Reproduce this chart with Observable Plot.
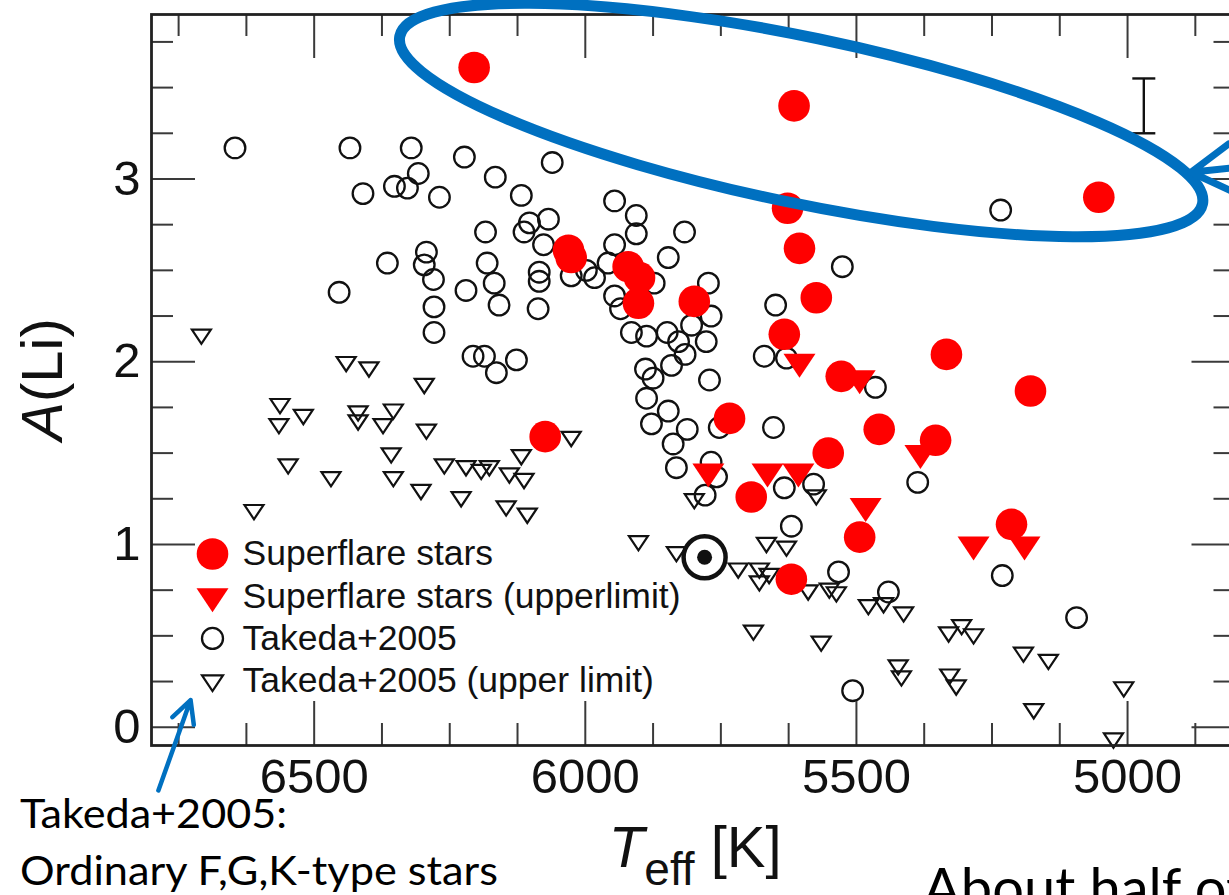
<!DOCTYPE html>
<html>
<head>
<meta charset="utf-8">
<script src="https://cdn.jsdelivr.net/npm/d3@7"></script>
<script src="https://cdn.jsdelivr.net/npm/@observablehq/plot@0.6"></script>
<style>
  html, body { margin: 0; padding: 0; background: #fff; overflow: hidden; }
  #chart { position: relative; width: 1229px; height: 895px; overflow: hidden; }
</style>
</head>
<body>
<div id="chart"></div>
<script>
// ---- Data: [Teff (K), A(Li)] ----
const superflareStars = [
  [6205, 3.61], [5615, 3.40], [5053, 2.90], [5627, 2.84], [5605, 2.62],
  [6031, 2.61], [6026, 2.57], [5921, 2.52], [5900, 2.46], [5902, 2.32],
  [5799, 2.33], [5574, 2.35], [5633, 2.15], [5334, 2.04], [5179, 1.84],
  [5528, 1.92], [5458, 1.63], [5354, 1.57], [5552, 1.50], [5734, 1.69],
  [6074, 1.59], [5694, 1.26], [5494, 1.04], [5214, 1.11], [5620, 0.81]
];

const superflareUpper = [
  [5605, 2.00], [5494, 1.91], [5382, 1.50], [5483, 1.21], [5284, 1.00],
  [5190, 1.00], [5773, 1.40], [5664, 1.40], [5607, 1.40]
];

const takedaStars = [
  [6646, 3.17], [6434, 3.17], [6321, 3.17], [6223, 3.12], [6061, 3.09],
  [6308, 3.03], [6166, 3.01], [6410, 2.92], [6352, 2.96], [6328, 2.95],
  [6269, 2.90], [6118, 2.91], [5946, 2.88], [5906, 2.80], [5906, 2.70],
  [5817, 2.71], [6103, 2.76], [6068, 2.78], [6113, 2.71], [6184, 2.71],
  [6077, 2.64], [5946, 2.64], [6365, 2.54], [6454, 2.38], [6293, 2.60],
  [6297, 2.53], [6280, 2.45], [6279, 2.30], [6279, 2.16], [6181, 2.54],
  [6168, 2.43], [6220, 2.39], [6159, 2.31], [6087, 2.29], [6085, 2.49],
  [6085, 2.44], [6026, 2.47], [5998, 2.50], [5983, 2.46], [5958, 2.54],
  [5946, 2.36], [5935, 2.29], [5873, 2.43], [5847, 2.57], [5773, 2.43],
  [5915, 2.16], [5887, 2.14], [5849, 2.16], [5828, 2.11], [5804, 2.20],
  [5768, 2.25], [5777, 2.11], [5816, 2.04], [5841, 1.98], [5889, 1.96],
  [5875, 1.91], [5771, 1.90], [5887, 1.80], [5847, 1.73], [5878, 1.66],
  [5812, 1.63], [5838, 1.55], [5832, 1.42], [5768, 1.45], [5758, 1.37],
  [5779, 1.27], [5753, 1.64], [5649, 2.31], [5670, 2.03], [5629, 2.02],
  [5653, 1.64], [5633, 1.31], [5579, 1.33], [5620, 1.10], [5533, 0.85],
  [5231, 0.83], [5441, 0.74], [5094, 0.60], [5507, 0.20], [5387, 1.34],
  [5465, 1.86], [5526, 2.52], [5234, 2.83], [6207, 2.03], [6186, 2.03],
  [6164, 1.94], [6127, 2.01]
];

const takedaUpper = [
  [6708, 2.15], [6441, 2.00], [6399, 1.97], [6297, 1.88], [6563, 1.77],
  [6565, 1.66], [6520, 1.71], [6419, 1.73], [6419, 1.68], [6354, 1.74],
  [6373, 1.66], [6293, 1.63], [6358, 1.50], [6548, 1.44], [6469, 1.37],
  [6354, 1.37], [6303, 1.30], [6611, 1.19], [6026, 1.59], [6118, 1.49],
  [6260, 1.44], [6220, 1.43], [6192, 1.41], [6177, 1.43], [6140, 1.39],
  [6113, 1.36], [6229, 1.26], [6146, 1.21], [6107, 1.17], [5902, 1.02],
  [5832, 0.96], [5799, 1.25], [5718, 0.87], [5679, 0.87], [5679, 0.80],
  [5661, 0.84], [5666, 1.01], [5629, 0.99], [5589, 0.75], [5550, 0.76],
  [5537, 0.74], [5574, 1.27], [5478, 0.67], [5450, 0.68], [5413, 0.63],
  [5690, 0.53], [5565, 0.47], [5330, 0.52], [5306, 0.56], [5284, 0.51],
  [5423, 0.34], [5417, 0.28], [5328, 0.29], [5316, 0.23], [5192, 0.41],
  [5146, 0.37], [5173, 0.10], [5007, 0.22], [5026, -0.06]
];

// The Sun
const sun = [[5780, 0.93]];
// Typical uncertainty: [Teff, A(Li), half-width]
const typicalError = [[4970, 3.40, 0.15]];

// Axis ticks
const xMajor = [6500, 6000, 5500, 5000];
const xMinor = [6750, 6625, 6375, 6250, 6125, 5875, 5750, 5625, 5375, 5250, 5125, 4875];
const yMajor = [0, 1, 2, 3];
const yMinor = [0.25, 0.5, 0.75, 1.25, 1.5, 1.75, 2.25, 2.5, 2.75, 3.25, 3.5, 3.75];

const legendLabels = [
  "Superflare stars",
  "Superflare stars (upperlimit)",
  "Takeda+2005",
  "Takeda+2005 (upper limit)"
];

// ---- Layout ----
const W = 1260, H = 895;
const M = {top: 14, right: 24.5, bottom: 150, left: 151};
const innerW = W - M.left - M.right;
const innerH = H - M.top - M.bottom;
const majorLen = 44, minorLen = 22;

const ink = "#111";
const tickInk = "#3a3a3a";
const red = "#ff0000";
const blue = "#0070c0";
const sans = "'Liberation Sans', Arial, Helvetica, sans-serif";

const rows = pairs => pairs.map(([teff, li]) => ({teff, li}));

// Downward-pointing, slightly flattened triangle, centred on its centroid
const triangleDown = {
  draw(context, size) {
    const r = Math.sqrt(size / Math.PI);
    context.moveTo(-r, -0.5 * r);
    context.lineTo(r, -0.5 * r);
    context.lineTo(0, r);
    context.closePath();
  }
};
// Horizontal cap for the error bar
const hbar = {
  draw(context, size) {
    const r = Math.sqrt(size / Math.PI);
    context.moveTo(-r, 0);
    context.lineTo(r, 0);
  }
};

const errRows = typicalError.map(([teff, li, e]) => ({teff, li, lo: li - e, hi: li + e}));
const capRows = errRows.flatMap(d => [{teff: d.teff, li: d.lo}, {teff: d.teff, li: d.hi}]);

// Legend, one row per series, anchored to the lower-left corner of the frame
const legendStyles = [
  {symbol: "circle", r: 15.8, fill: red, stroke: "none", strokeWidth: 0},
  {symbol: triangleDown, r: 16, fill: red, stroke: "none", strokeWidth: 0},
  {symbol: "circle", r: 10.5, fill: "none", stroke: ink, strokeWidth: 2.3},
  {symbol: triangleDown, r: 10.5, fill: "none", stroke: ink, strokeWidth: 2.2}
];
const legendMarks = legendLabels.flatMap((label, i) => {
  const dy = -191.5 + 42.2 * i;
  const s = legendStyles[i];
  return [
    Plot.dot([label], {frameAnchor: "bottom-left", dx: 61, dy, ...s}),
    Plot.text([label], {frameAnchor: "bottom-left", dx: 91, dy, text: d => d,
      textAnchor: "start", lineAnchor: "middle", fontSize: 35.5, fill: ink})
  ];
});

const chart = Plot.plot({
  width: W,
  height: H,
  marginTop: M.top,
  marginRight: M.right,
  marginBottom: M.bottom,
  marginLeft: M.left,
  style: {maxWidth: "none", background: "#fff", fontFamily: sans, color: ink},
  x: {domain: [6800, 4800]},
  y: {domain: [-0.1, 3.9]},
  marks: [
    // Takeda et al. 2005 sample
    Plot.dot(rows(takedaUpper), {x: "teff", y: "li", symbol: triangleDown, r: 9.5,
      fill: "none", stroke: ink, strokeWidth: 2.2}),
    Plot.dot(rows(takedaStars), {x: "teff", y: "li", r: 10.3,
      fill: "none", stroke: ink, strokeWidth: 2.3}),
    // Superflare stars
    Plot.dot(rows(superflareStars), {x: "teff", y: "li", r: 15.8, fill: red}),
    Plot.dot(rows(superflareUpper), {x: "teff", y: "li", symbol: triangleDown, r: 16, fill: red}),
    // The Sun
    Plot.dot(rows(sun), {x: "teff", y: "li", r: 21, fill: "#fff", stroke: ink, strokeWidth: 4.5}),
    Plot.dot(rows(sun), {x: "teff", y: "li", r: 7.5, fill: ink}),
    // Typical error bar
    Plot.ruleX(errRows, {x: "teff", y1: "lo", y2: "hi", stroke: ink, strokeWidth: 2.4}),
    Plot.dot(capRows, {x: "teff", y: "li", symbol: hbar, r: 11.5, stroke: ink, strokeWidth: 2.4}),
    // Inward ticks on all four sides
    Plot.tickX(xMajor, {x: d => d, insetTop: innerH - majorLen, stroke: tickInk, strokeWidth: 2}),
    Plot.tickX(xMinor, {x: d => d, insetTop: innerH - minorLen, stroke: tickInk, strokeWidth: 2}),
    Plot.tickX(xMajor, {x: d => d, insetBottom: innerH - majorLen, stroke: tickInk, strokeWidth: 2}),
    Plot.tickX(xMinor, {x: d => d, insetBottom: innerH - minorLen, stroke: tickInk, strokeWidth: 2}),
    Plot.tickY(yMajor, {y: d => d, insetRight: innerW - majorLen, stroke: tickInk, strokeWidth: 2}),
    Plot.tickY(yMinor, {y: d => d, insetRight: innerW - minorLen, stroke: tickInk, strokeWidth: 2}),
    Plot.tickY(yMajor, {y: d => d, insetLeft: innerW - majorLen, stroke: tickInk, strokeWidth: 2}),
    Plot.tickY(yMinor, {y: d => d, insetLeft: innerW - minorLen, stroke: tickInk, strokeWidth: 2}),
    Plot.frame({stroke: "#222", strokeWidth: 2.8}),
    Plot.axisX(xMajor, {anchor: "bottom", tickSize: 0, tickPadding: 13, fontSize: 49,
      tickFormat: d => `${d}`, label: null}),
    Plot.axisY(yMajor, {anchor: "left", tickSize: 0, tickPadding: 11, fontSize: 49,
      tickFormat: d => `${d}`, label: null}),
    ...legendMarks
  ]
});

document.getElementById("chart").append(chart);

// ---- Axis titles and slide notes ----
const svg = d3.select(chart);
const sx = v => chart.scale("x").apply(v);
const sy = v => chart.scale("y").apply(v);
const frameLeft = M.left, frameRight = W - M.right;
const frameTop = M.top, frameBottom = H - M.bottom;

// x title: T_eff [K]
const xt = svg.append("text")
  .attr("x", (frameLeft + frameRight) / 2 + 2)
  .attr("y", frameBottom + 122)
  .attr("text-anchor", "middle")
  .attr("font-family", sans)
  .attr("font-size", 58)
  .attr("fill", ink);
xt.append("tspan").attr("font-style", "italic").text("T");
xt.append("tspan").attr("font-size", 46).attr("dy", 18).text("eff");
xt.append("tspan").attr("dy", -18).text(" [K]");

// y title: A(Li)
const yt = svg.append("text")
  .attr("transform", `translate(62,${(frameTop + frameBottom) / 2}) rotate(-90)`)
  .attr("text-anchor", "middle")
  .attr("font-family", sans)
  .attr("font-size", 58)
  .attr("fill", ink);
yt.append("tspan").attr("font-style", "italic").text("A");
yt.append("tspan").text("(Li)");

const notes = svg.append("g").attr("class", "notes").attr("text-anchor", "start");

// Highlight round the Li-rich superflare stars
const hx = sx(5601), hy = sy(3.32);
notes.append("ellipse")
  .attr("cx", hx).attr("cy", hy)
  .attr("rx", 410).attr("ry", 83)
  .attr("transform", `rotate(11.8 ${hx} ${hy})`)
  .attr("fill", "none")
  .attr("stroke", blue)
  .attr("stroke-width", 11);

// Open arrow: tip position in data units, shaft angle/length and head in pixels
function arrow(tipTeff, tipLi, angleDeg, length, headLen, headHalfDeg, width) {
  const tx = sx(tipTeff), ty = sy(tipLi);
  const a = angleDeg * Math.PI / 180, h = headHalfDeg * Math.PI / 180;
  const ex = tx + length * Math.cos(a), ey = ty + length * Math.sin(a);
  const b1x = tx + headLen * Math.cos(a - h), b1y = ty + headLen * Math.sin(a - h);
  const b2x = tx + headLen * Math.cos(a + h), b2y = ty + headLen * Math.sin(a + h);
  notes.append("path")
    .attr("d", `M${ex},${ey}L${tx},${ty}M${b1x},${b1y}L${tx},${ty}L${b2x},${b2y}`)
    .attr("fill", "none")
    .attr("stroke", blue)
    .attr("stroke-width", width)
    .attr("stroke-linecap", "round")
    .attr("stroke-linejoin", "round");
}
arrow(4882, 3.034, -6, 90, 47, 31, 7);
arrow(6727, 0.146, 109.6, 96, 25, 27, 4.5);

const noteFont = "Lato, 'Open Sans', sans-serif";
notes.append("text")
  .attr("x", 20).attr("y", 828)
  .attr("text-anchor", "start")
  .attr("font-family", noteFont).attr("font-size", 40).attr("fill", "#000")
  .attr("textLength", 267).attr("lengthAdjust", "spacingAndGlyphs")
  .text("Takeda+2005:");
notes.append("text")
  .attr("x", 20).attr("y", 885)
  .attr("text-anchor", "start")
  .attr("font-family", noteFont).attr("font-size", 40).attr("fill", "#000")
  .attr("textLength", 478).attr("lengthAdjust", "spacingAndGlyphs")
  .text("Ordinary F,G,K-type stars");
notes.append("text")
  .attr("x", 923).attr("y", 908)
  .attr("text-anchor", "start")
  .attr("font-family", noteFont).attr("font-size", 56).attr("fill", "#000")
  .text("About half of");
</script>
</body>
</html>
